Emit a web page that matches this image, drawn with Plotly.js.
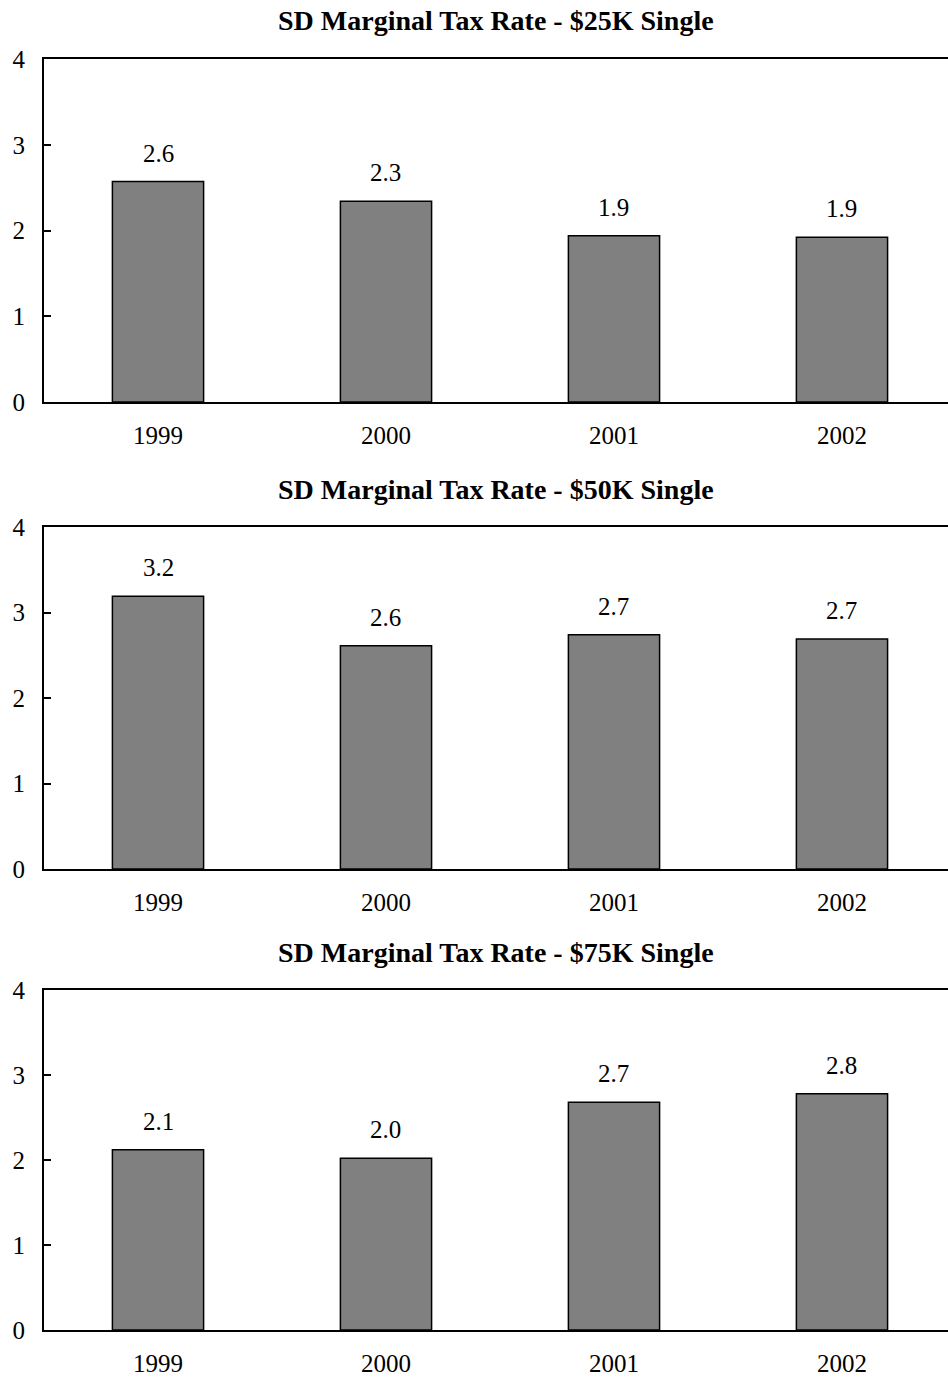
<!DOCTYPE html>
<html><head><meta charset="utf-8">
<script src="https://cdn.plot.ly/plotly-3.0.1.min.js"></script>
<style>body{margin:0;padding:0;background:#fff}#chart{width:948px;height:1377px}</style>
</head><body><div id="chart"></div>
<script>
const years = ['1999', '2000', '2001', '2002'];
const titles = ['SD Marginal Tax Rate - $25K Single', 'SD Marginal Tax Rate - $50K Single', 'SD Marginal Tax Rate - $75K Single'];
const rate25K = [2.57, 2.34, 1.94, 1.92];
const rate50K = [3.19, 2.61, 2.74, 2.69];
const rate75K = [2.12, 2.02, 2.68, 2.78];
const yTicks = [0, 1, 2, 3, 4];

const series = [rate25K, rate50K, rate75K];
const H = 1377;
// plot area pixel bounds [top, bottom] of each panel
const panels = [[59, 402], [527, 869], [990, 1330]];
const font = '"Liberation Serif", "Times New Roman", serif';

const data = [];
const annotations = [];
const layout = {
  width: 948, height: H,
  margin: {l: 44, r: 0, t: 0, b: 0},
  paper_bgcolor: '#fff', plot_bgcolor: '#fff',
  showlegend: false,
  font: {family: font, size: 25, color: '#000'},
  bargap: 0.6,
  annotations: annotations
};

series.forEach((vals, i) => {
  const n = i === 0 ? '' : String(i + 1);
  data.push({
    type: 'bar', x: years, y: vals,
    xaxis: 'x' + n, yaxis: 'y' + n,
    marker: {color: '#808080', line: {color: '#000', width: 1.5}},
    hoverinfo: 'x+y'
  });
  const [top, bot] = panels[i];
  layout['xaxis' + n] = {
    domain: [0, 1], anchor: 'y' + n, type: 'category',
    range: [-0.5, 3.465], showline: true, linecolor: '#000', linewidth: 2,
    mirror: true, ticks: '', showgrid: false, zeroline: false,
    ticklabelstandoff: 10, tickfont: {family: font, size: 25, color: '#000'},
    fixedrange: true
  };
  layout['yaxis' + n] = {
    domain: [(H - bot) / H, (H - top) / H], anchor: 'x' + n,
    range: [0, 4], tickvals: yTicks, ticktext: yTicks.map(String),
    showline: true, linecolor: '#000', linewidth: 2,
    ticks: 'inside', ticklen: 7, tickwidth: 2, tickcolor: '#000',
    showgrid: false, zeroline: false,
    ticklabelstandoff: 12, tickfont: {family: font, size: 25, color: '#000'},
    fixedrange: true
  };
  vals.forEach((v, j) => {
    annotations.push({
      xref: 'x' + n, yref: 'y' + n, x: j, y: v,
      text: v.toFixed(1), showarrow: false, yanchor: 'bottom', yshift: 13,
      font: {family: font, size: 25, color: '#000'}
    });
  });
  annotations.push({
    xref: 'paper', yref: 'paper', x: 0.5, xanchor: 'center',
    y: (H - top + 38) / H, yanchor: 'middle',
    text: '<b>' + titles[i] + '</b>', showarrow: false,
    font: {family: font, size: 28, color: '#000'}
  });
});

Plotly.newPlot('chart', data, layout, {displayModeBar: false, staticPlot: true});
</script></body></html>
